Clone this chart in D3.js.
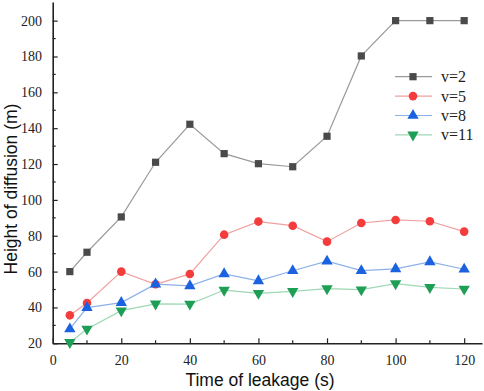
<!DOCTYPE html>
<html><head><meta charset="utf-8">
<script src="https://cdn.jsdelivr.net/npm/d3@7"></script>
<style>body{margin:0;background:#fff}svg{display:block}</style>
</head><body>
<svg id="c" width="484" height="391"></svg>
<script>
const times = [5,10,20,30,40,50,60,70,80,90,100,110,120];
const v2  = [60,70.8,90.5,121,142.2,125.8,120.2,118.5,135.5,180.3,200,200,200];
const v5  = [35.6,42.5,60,52.9,58.7,80.6,87.9,85.6,76.7,87.1,88.8,88.1,82.3];
const v8  = [28,39.9,42.7,53,52,58.7,54.8,60.5,65.8,60.5,61.5,65.4,61.3];
const v11 = [20.5,28,38.2,42,41.9,49.7,47.9,49,50.5,49.9,53.3,51.2,50.3];
const seriesNames = ["v=2","v=5","v=8","v=11"];
const xTicks = [0,20,40,60,80,100,120];
const yTicks = [20,40,60,80,100,120,140,160,180,200];

const styles = [
  {line:"#9a9a9a", fill:"#4a4a4a", sym:d3.symbolSquare, size:52, rot:0},
  {line:"#f0a0a0", fill:"#f43c3c", sym:d3.symbolCircle, size:58, rot:0},
  {line:"#8cb0e8", fill:"#1a62e0", sym:d3.symbolTriangle, size:56, rot:0},
  {line:"#9fd8b4", fill:"#1f9e55", sym:d3.symbolTriangle, size:56, rot:180}
];
const data = [v2,v5,v8,v11];

const svg = d3.select("#c");
const x = d3.scaleLinear().domain([0,125.2]).range([52.7,482]);
const y = d3.scaleLinear().domain([20,210.4]).range([343.3,2]);

// minor ticks
const gx = svg.append("g");
d3.range(10,125,20).forEach(t=>{
  gx.append("line").attr("x1",x(t)).attr("x2",x(t)).attr("y1",y(20)).attr("y2",y(20)-3)
    .attr("stroke","#222").attr("stroke-width",1.2);
});
d3.range(30,210,20).forEach(t=>{
  gx.append("line").attr("y1",y(t)).attr("y2",y(t)).attr("x1",x(0)).attr("x2",x(0)+3)
    .attr("stroke","#222").attr("stroke-width",1.2);
});

const xAxis = d3.axisBottom(x).tickValues(xTicks).tickSizeInner(-5).tickSizeOuter(0).tickPadding(12);
const yAxis = d3.axisLeft(y).tickValues(yTicks).tickSizeInner(-5).tickSizeOuter(0).tickPadding(12);
const ax = svg.append("g").attr("transform",`translate(0,${y(20)})`).call(xAxis);
const ay = svg.append("g").attr("transform",`translate(${x(0)},0)`).call(yAxis);
[ax,ay].forEach(g=>{
  g.select(".domain").attr("stroke","#222").attr("stroke-width",1.6);
  g.selectAll(".tick line").attr("stroke","#222").attr("stroke-width",1.2);
  g.selectAll(".tick text").attr("font-family","'Liberation Serif', serif").attr("font-size",14).attr("fill","#222");
});
ay.selectAll(".tick text").attr("dx","0.1em");

// series
data.forEach((vals,i)=>{
  const st = styles[i];
  const pts = times.map((t,j)=>[t,vals[j]]);
  svg.append("path").datum(pts)
    .attr("fill","none").attr("stroke",st.line).attr("stroke-width",1.2)
    .attr("d", d3.line().x(d=>x(d[0])).y(d=>y(d[1])));
  svg.append("g").selectAll("path").data(pts).join("path")
    .attr("d", d3.symbol().type(st.sym).size(st.size))
    .attr("transform", d=>`translate(${x(d[0])},${y(d[1])}) rotate(${st.rot})`)
    .attr("fill", st.fill);
});

// legend
const lg = svg.append("g");
seriesNames.forEach((n,i)=>{
  const st = styles[i];
  const yy = 76.7 + i*19.4;
  lg.append("line").attr("x1",395).attr("x2",432).attr("y1",yy).attr("y2",yy)
    .attr("stroke",st.line).attr("stroke-width",1.2);
  lg.append("path").attr("d", d3.symbol().type(st.sym).size(st.size))
    .attr("transform",`translate(413,${yy}) rotate(${st.rot})`).attr("fill",st.fill);
  lg.append("text").attr("x",441).attr("y",yy+5.5).text(n)
    .attr("font-family","'Liberation Serif', serif").attr("font-size",16).attr("fill","#222");
});

// titles
svg.append("text").attr("x",260).attr("y",386).attr("text-anchor","middle")
  .attr("font-family","'Liberation Sans', Arial, sans-serif").attr("font-size",17.5).attr("fill","#111")
  .text("Time of leakage (s)");
svg.append("text").attr("transform","translate(17,189) rotate(-90)").attr("text-anchor","middle")
  .attr("font-family","'Liberation Sans', Arial, sans-serif").attr("font-size",17.5).attr("fill","#111")
  .text("Height of diffusion (m)");
</script>
</body></html>
